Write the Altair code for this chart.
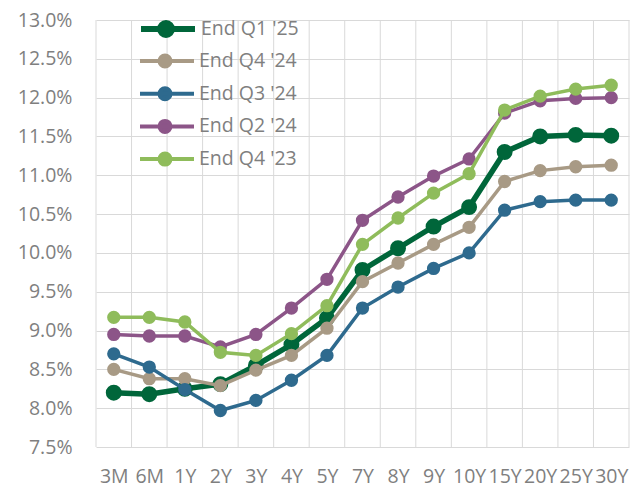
import altair as alt
import pandas as pd

tenors = ["3M", "6M", "1Y", "2Y", "3Y", "4Y", "5Y", "7Y", "8Y", "9Y", "10Y", "15Y", "20Y", "25Y", "30Y"]

series_names = ["End Q1 '25", "End Q4 '24", "End Q3 '24", "End Q2 '24", "End Q4 '23"]
series_colors = ["#00663A", "#A89A85", "#2E6A8E", "#8C5588", "#8FBC5B"]

q1_25 = [8.20, 8.18, 8.25, 8.31, 8.55, 8.82, 9.16, 9.78, 10.06, 10.34, 10.59, 11.30, 11.50, 11.52, 11.51]
q4_24 = [8.50, 8.38, 8.38, 8.29, 8.49, 8.68, 9.03, 9.63, 9.87, 10.11, 10.33, 10.92, 11.06, 11.11, 11.13]
q3_24 = [8.70, 8.53, 8.24, 7.97, 8.10, 8.36, 8.68, 9.29, 9.56, 9.80, 10.00, 10.55, 10.66, 10.68, 10.68]
q2_24 = [8.95, 8.93, 8.93, 8.79, 8.95, 9.29, 9.66, 10.42, 10.72, 10.99, 11.21, 11.80, 11.96, 11.99, 12.00]
q4_23 = [9.17, 9.17, 9.11, 8.72, 8.68, 8.96, 9.32, 10.11, 10.45, 10.77, 11.02, 11.84, 12.02, 12.11, 12.16]

series_values = [q1_25, q4_24, q3_24, q2_24, q4_23]
y_ticks = [7.5, 8.0, 8.5, 9.0, 9.5, 10.0, 10.5, 11.0, 11.5, 12.0, 12.5, 13.0]

FONT = "Open Sans"
FS = 19.5
GRAY = "#7F7F7F"
GRID = "#D9D9D9"

rows = []
for name, vals in zip(series_names, series_values):
    for i, v in enumerate(vals):
        rows.append({"series": name, "idx": i, "tenor": tenors[i], "value": v})
df = pd.DataFrame(rows)

bounds = pd.DataFrame({"b": [i - 0.5 for i in range(len(tenors) + 1)]})

label_expr = "[" + ",".join("'%s'" % t for t in tenors) + "][datum.value]"

x_scale = alt.Scale(domain=[-0.5, len(tenors) - 0.5], nice=False, zero=False)
y_scale = alt.Scale(domain=[7.5, 13.0], nice=False, zero=False)

x_axis = alt.Axis(values=list(range(len(tenors))), labelExpr=label_expr, grid=False,
                  ticks=False, domain=False, labelFont=FONT, labelFontSize=FS,
                  labelColor=GRAY, labelPadding=20, title=None, labelFlush=False,
                  labelOverlap=False)
y_axis = alt.Axis(values=y_ticks, labelExpr="format(datum.value, '.1f') + '%'",
                  grid=True, gridColor=GRID, gridWidth=1, ticks=False, domain=False,
                  labelFont=FONT, labelFontSize=FS, labelColor=GRAY, labelPadding=24,
                  title=None)

vgrid = alt.Chart(bounds).mark_rule(color=GRID, strokeWidth=1).encode(
    x=alt.X("b:Q", scale=x_scale, axis=x_axis)
)

path_big = "M-2.5,0L2.9,0M-0.6,0A0.6,0.6,0,1,0,0.6,0A0.6,0.6,0,1,0,-0.6,0Z"
path_small = "M-2.5,0L2.9,0M-0.55,0A0.55,0.55,0,1,0,0.55,0A0.55,0.55,0,1,0,-0.55,0Z"

common = dict(orient="none", legendX=57, title=None, padding=0, symbolSize=400,
              symbolOpacity=1, labelFont=FONT, labelFontSize=FS, labelColor=GRAY,
              labelOffset=22, rowPadding=4.7)
legend_first = alt.Legend(legendY=-4, symbolType=path_big, symbolStrokeWidth=6, **common)
legend_rest = alt.Legend(legendY=29, symbolType=path_small, symbolStrokeWidth=4, **common)

color_scale = alt.Scale(domain=series_names, range=series_colors)

layers = [vgrid]
for k, name in enumerate(series_names):
    sub = df[df["series"] == name]
    big = k == 0
    base = alt.Chart(sub).encode(
        x=alt.X("idx:Q", scale=x_scale, axis=x_axis),
        y=alt.Y("value:Q", scale=y_scale, axis=y_axis),
        color=alt.Color("series:N", scale=color_scale, legend=None),
    )
    line = base.mark_line(strokeWidth=5.5 if big else 3.5)
    pts = base.mark_point(filled=True, opacity=1, size=254 if big else 177, shape="circle")
    layers += [line, pts]

# legend-only layers: their rows are filtered out, the legends come from the explicit scale domains
def legend_layer(names, colors, leg):
    sc = alt.Scale(domain=names, range=colors)
    return alt.Chart(df).transform_filter("datum.idx < 0").mark_point(filled=True).encode(
        x=alt.X("idx:Q", scale=x_scale, axis=x_axis),
        y=alt.Y("value:Q", scale=y_scale, axis=y_axis),
        fill=alt.Fill("series:N", scale=sc, legend=leg),
        stroke=alt.Stroke("series:N", scale=sc, legend=leg),
    )

layers.append(legend_layer(series_names[:1], series_colors[:1], legend_first))
layers.append(legend_layer(series_names[1:], series_colors[1:], legend_rest))

chart = alt.layer(*layers).resolve_scale(
    fill="independent", stroke="independent"
).resolve_legend(
    color="independent", fill="independent", stroke="independent"
).properties(
    width=533, height=427,
    autosize=alt.AutoSizeParams(type="none"),
    padding={"left": 96, "top": 20, "right": 2, "bottom": 42},
).configure_view(stroke=None)

chart.save("out.html", embed_options={"renderer": "svg", "actions": False})
